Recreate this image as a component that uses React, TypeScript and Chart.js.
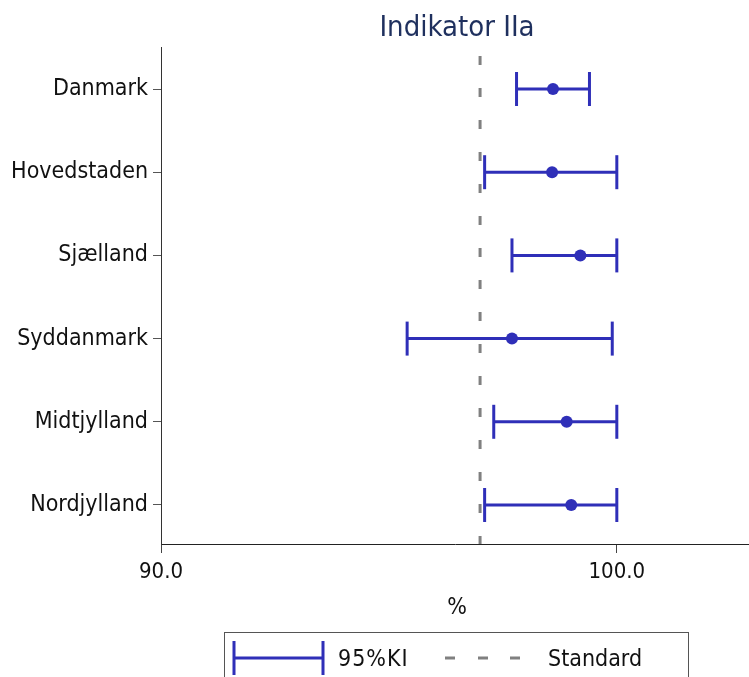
import React, { useEffect, useRef } from 'react';
import { Chart, registerables } from 'chart.js';

Chart.register(...registerables);

const categories = ['Danmark', 'Hovedstaden', 'Sjælland', 'Syddanmark', 'Midtjylland', 'Nordjylland'];
const estimates = [98.6, 98.58, 99.2, 97.7, 98.9, 99.0];
const lower = [97.8, 97.1, 97.7, 95.4, 97.3, 97.1];
const upper = [99.4, 100.0, 100.0, 99.9, 100.0, 100.0];
const standard = 97.0;
const xTicks = [90, 100];
const chartTitle = 'Indikator IIa';
const xTitle = '%';
const legendLabels = ['95%KI', 'Standard'];

const FONT = "'DejaVu Sans Condensed', 'DejaVu Sans', sans-serif";
const BLUE = '#2f2fb8';
const GREY = '#808080';
const TEXT = '#111111';

const overlayPlugin = {
  id: 'overlay',
  afterDraw(chart: any) {
    const ctx = chart.ctx;
    const area = chart.chartArea;
    const cx = (area.left + area.right) / 2 + 2;
    ctx.save();
    // title
    ctx.font = `29px ${FONT}`;
    ctx.fillStyle = '#1f305e';
    ctx.textAlign = 'center';
    ctx.textBaseline = 'alphabetic';
    ctx.fillText(chartTitle, cx, 36);
    // x title
    ctx.font = `23px ${FONT}`;
    ctx.fillStyle = TEXT;
    ctx.fillText(xTitle, cx, 614);
    // legend box
    ctx.strokeStyle = '#555555';
    ctx.lineWidth = 1;
    ctx.strokeRect(224.5, 632.5, 464, 80);
    // error bar symbol
    ctx.strokeStyle = BLUE;
    ctx.lineWidth = 3;
    ctx.beginPath();
    ctx.moveTo(234, 658);
    ctx.lineTo(323, 658);
    ctx.moveTo(234, 641);
    ctx.lineTo(234, 675);
    ctx.moveTo(323, 641);
    ctx.lineTo(323, 675);
    ctx.stroke();
    // dashed symbol
    ctx.strokeStyle = GREY;
    ctx.beginPath();
    [445, 478, 510].forEach((x) => {
      ctx.moveTo(x, 658);
      ctx.lineTo(x + 10, 658);
    });
    ctx.stroke();
    ctx.textAlign = 'left';
    ctx.fillStyle = TEXT;
    (ctx as any).letterSpacing = '1px';
    ctx.fillText(legendLabels[0], 338, 666);
    (ctx as any).letterSpacing = '0px';
    ctx.fillText(legendLabels[1], 548, 666);
    ctx.restore();
  },
};

export default function App() {
  const ref = useRef<HTMLCanvasElement | null>(null);
  useEffect(() => {
    document.body.style.margin = '0';
    document.body.style.overflow = 'hidden';
    const canvas = ref.current;
    if (!canvas) return;

    const ciSets = categories.map((_, i) => ({
      type: 'line',
      data: [
        { x: lower[i], y: i },
        { x: upper[i], y: i },
      ],
      showLine: true,
      borderColor: BLUE,
      borderWidth: 3,
      pointStyle: 'line',
      pointRotation: 90,
      pointRadius: 17,
      pointBorderWidth: 3,
      pointBorderColor: BLUE,
      pointBackgroundColor: BLUE,
      pointHoverRadius: 17,
      fill: false,
      order: 1,
    }));

    const chart = new Chart(canvas, {
      type: 'scatter',
      data: {
        datasets: [
          {
            type: 'scatter',
            data: estimates.map((v, i) => ({ x: v, y: i })),
            pointRadius: 6,
            pointHoverRadius: 6,
            backgroundColor: BLUE,
            borderColor: BLUE,
            borderWidth: 0,
            order: 0,
          } as any,
          ...ciSets,
          {
            type: 'line',
            data: [
              { x: standard, y: -0.397 },
              { x: standard, y: 5.7 },
            ],
            showLine: true,
            borderColor: GREY,
            borderWidth: 3,
            borderDash: [9, 23],
            pointRadius: 0,
            fill: false,
            order: 2,
          },
        ] as any,
      },
      options: {
        animation: false,
        responsive: false,
        events: [],
        layout: { autoPadding: false, padding: { top: 47, left: 0, right: 0, bottom: 0 } },
        plugins: {
          legend: { display: false },
          tooltip: { enabled: false },
          title: { display: false },
        },
        scales: {
          x: {
            type: 'linear',
            position: 'bottom',
            min: 90,
            max: 102.9,
            afterBuildTicks: (s: any) => {
              s.ticks = xTicks.map((v) => ({ value: v }));
            },
            afterFit: (s: any) => {
              s.height = 133;
              s.paddingLeft = 0;
              s.paddingRight = 0;
            },
            ticks: {
              callback: (v: any) => Number(v).toFixed(1),
              font: { family: FONT, size: 22 },
              color: TEXT,
              padding: 6,
              maxRotation: 0,
              autoSkip: false,
            },
            grid: {
              display: true,
              drawOnChartArea: false,
              drawTicks: true,
              tickLength: 9,
              color: '#444444',
              lineWidth: 1,
            },
            border: { display: true, color: '#222222', width: 1 },
          },
          y: {
            type: 'linear',
            reverse: true,
            min: -0.505,
            max: 5.469,
            afterBuildTicks: (s: any) => {
              s.ticks = categories.map((_, i) => ({ value: i }));
            },
            afterFit: (s: any) => {
              s.width = 161;
              s.paddingTop = 0;
              s.paddingBottom = 0;
            },
            ticks: {
              callback: (v: any) => categories[Number(v)] ?? '',
              font: { family: FONT, size: 23 },
              color: TEXT,
              padding: 5,
              autoSkip: false,
            },
            grid: {
              display: true,
              drawOnChartArea: false,
              drawTicks: true,
              tickLength: 8,
              color: '#555555',
              lineWidth: 1,
            },
            border: { display: true, color: '#333333', width: 1 },
          },
        },
      } as any,
      plugins: [overlayPlugin],
    });
    return () => chart.destroy();
  }, []);

  return <canvas ref={ref} width={749} height={677} style={{ display: 'block', width: 749, height: 677 }} />;
}
